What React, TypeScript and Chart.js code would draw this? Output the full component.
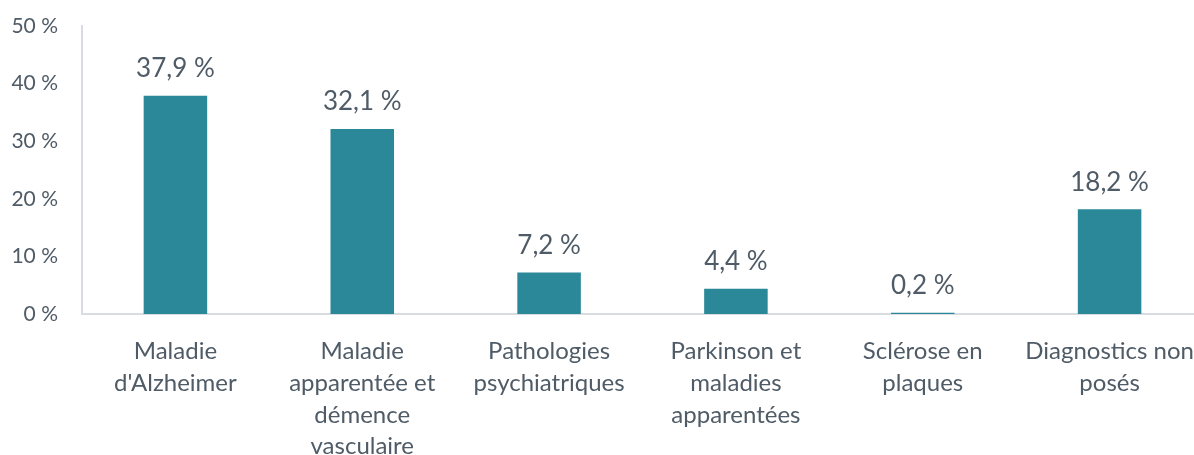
import React, { useEffect, useRef } from "react";
import { Chart, registerables } from "chart.js";

Chart.register(...registerables);

const categories: string[][] = [
  ["Maladie", "d'Alzheimer"],
  ["Maladie", "apparentée et", "démence", "vasculaire"],
  ["Pathologies", "psychiatriques"],
  ["Parkinson et", "maladies", "apparentées"],
  ["Sclérose en", "plaques"],
  ["Diagnostics non", "posés"],
];
const values: number[] = [37.9, 32.1, 7.2, 4.4, 0.2, 18.2];
const yTicks: number[] = [0, 10, 20, 30, 40, 50];

const TEXT = "#4f5b66";
const BAR = "#2b8898";
const AXIS = "#d9dde1";
const FONT = "Lato, 'Open Sans', sans-serif";

const fmt = (v: number) => v.toFixed(1).replace(".", ",") + " %";

const valueLabels = {
  id: "valueLabels",
  afterDatasetsDraw(chart: any) {
    const ctx = chart.ctx;
    const meta = chart.getDatasetMeta(0);
    ctx.save();
    ctx.fillStyle = TEXT;
    ctx.font = `26px ${FONT}`;
    ctx.textAlign = "center";
    ctx.textBaseline = "middle";
    meta.data.forEach((bar: any, i: number) => {
      ctx.fillText(fmt(values[i]), bar.x, bar.y - 27);
    });
    ctx.restore();
  },
};

export default function App() {
  const ref = useRef<HTMLCanvasElement | null>(null);
  useEffect(() => {
    document.body.style.margin = "0";
    document.body.style.overflow = "hidden";
    if (!ref.current) return;
    const chart = new Chart(ref.current, {
      type: "bar",
      data: {
        labels: categories,
        datasets: [
          {
            data: values,
            backgroundColor: BAR,
            borderWidth: 0,
            barPercentage: 0.34,
            categoryPercentage: 1,
          },
        ],
      },
      options: {
        animation: false,
        responsive: false,
        maintainAspectRatio: false,
        layout: { padding: { left: 0, top: 26, right: 0, bottom: 0 } },
        plugins: {
          legend: { display: false },
          tooltip: { enabled: false },
        },
        scales: {
          x: {
            grid: { display: false },
            border: { display: true, color: AXIS, width: 2 },
            afterFit: (s: any) => {
              s.height = 141;
              s.paddingLeft = 0;
              s.paddingRight = 0;
            },
            ticks: {
              color: TEXT,
              font: { family: FONT, size: 24, lineHeight: 1.33 },
              padding: 13,
              maxRotation: 0,
              autoSkip: false,
            },
          },
          y: {
            min: 0,
            max: 50,
            afterBuildTicks: (axis: any) => {
              axis.ticks = yTicks.map((v) => ({ value: v }));
            },
            afterFit: (s: any) => {
              s.width = 82;
              s.paddingTop = 0;
            },
            grid: { display: false },
            border: { display: true, color: AXIS, width: 2 },
            ticks: {
              color: TEXT,
              font: { family: FONT, size: 21 },
              padding: 16,
              callback: (v: any) => `${v} %`,
            },
          },
        },
      },
      plugins: [valueLabels],
    });
    return () => chart.destroy();
  }, []);
  return (
    <div style={{ width: 1194, height: 455, overflow: "hidden" }}>
      <canvas ref={ref} width={1203} height={455} style={{ display: "block" }} />
    </div>
  );
}
